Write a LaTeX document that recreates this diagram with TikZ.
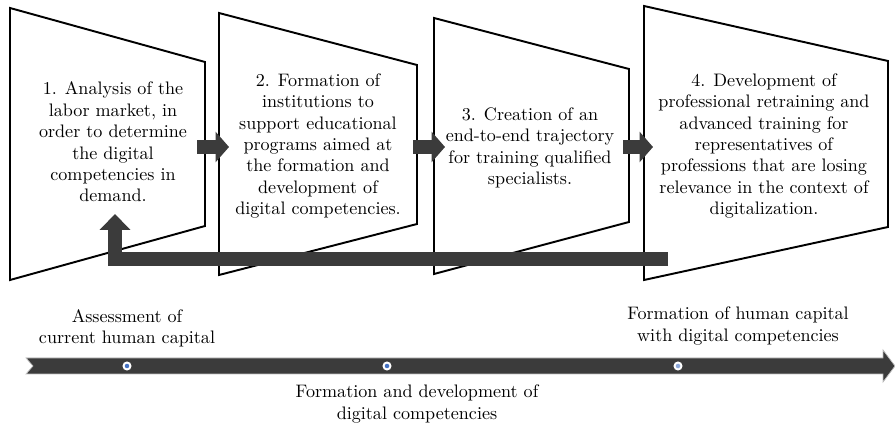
\documentclass[tikz,border=0pt]{standalone}
\usepackage{fontspec}
\usetikzlibrary{arrows.meta}
\definecolor{bargray}{HTML}{3B3B3B}
\definecolor{dotblue}{HTML}{4472C4}
\definecolor{dotpale}{HTML}{8EA9DB}
\tikzset{
	stage/.style={draw=black, line width=1.1pt, line join=miter},
	stagetext/.style={align=center, font=\fontsize{10.3}{12.2}\selectfont, inner sep=0pt},
	timetext/.style={align=center, font=\fontsize{10.3}{12}\selectfont, inner sep=0pt},
	blockarrow/.style={draw=bargray, line width=0.28cm, line join=miter, -{Triangle[length=0.27cm, width=0.6cm]}},
	tdot/.style={circle, draw=white, fill=#1, line width=1.1pt, minimum size=0.14cm, inner sep=0pt}
}

\begin{document}
\begin{tikzpicture}[x=0.02cm, y=-0.02cm]
		%%%%% START %%%%%
		\useasboundingbox (0, 0) rectangle (895, 428);
		
		% stages
		\draw[stage] (10, 8) -- (205, 62) -- (205, 226) -- (10, 280) -- cycle;
		\draw[stage] (219, 13) -- (417, 65) -- (417, 224) -- (219, 275) -- cycle;
		\draw[stage] (434, 18) -- (629, 69) -- (629, 222) -- (434, 274) -- cycle;
		\draw[stage] (644, 6) -- (888, 61) -- (888, 227) -- (644, 280) -- cycle;
		
		\node[stagetext] (an) at (113, 142) {1. Analysis of the\\labor market, in\\order to determine\\the digital\\competencies in\\demand.};
		\node[stagetext] (inst) at (318, 146) {2. Formation of\\institutions to\\support educational\\programs aimed at\\the formation and\\development of\\digital competencies.};
		\node[stagetext] (traj) at (530, 148) {3. Creation of an\\end-to-end trajectory\\for training qualified\\specialists.};
		\node[stagetext] (retr) at (764, 146) {4. Development of\\professional retraining and\\advanced training for\\representatives of\\professions that are losing\\relevance in the context of\\digitalization.};
		
		% arrows between stages
		\coordinate (an out) at (197, 147);
		\coordinate (inst in) at (229, 147);
		\coordinate (inst out) at (413, 147);
		\coordinate (traj in) at (445, 147);
		\coordinate (traj out) at (623, 147);
		\coordinate (retr in) at (653, 147);
		\draw[blockarrow] (an out) -- (inst in);
		\draw[blockarrow] (inst out) -- (traj in);
		\draw[blockarrow] (traj out) -- (retr in);
		
		% feedback
		\coordinate (back start) at (668, 259);
		\coordinate (back end) at (115, 214);
		\draw[blockarrow, -{Triangle[length=0.32cm, width=0.6cm]}] (back start) -| (back end);
		
		% timeline
		\draw[fill=bargray, draw=black!25, line width=0.4pt] (26, 358) -- (883, 358) -- (883, 350) -- (895, 366) -- (883, 382) -- (883, 374) -- (26, 374) -- (33, 366) -- cycle;
		\node[tdot=dotblue] (now) at (127, 366) {};
		\node[tdot=dotblue] (dev) at (387, 366) {};
		\node[tdot=dotpale] (goal) at (678, 366) {};
		
		\node[timetext] (now text) at (127, 328) {Assessment of\\current human capital};
		\node[timetext] (dev text) at (417, 404) {Formation and development of\\digital competencies};
		\node[timetext] (goal text) at (738, 326) {Formation of human capital\\with digital competencies};
		%%%%% END %%%%%
	\end{tikzpicture}
\end{document}
